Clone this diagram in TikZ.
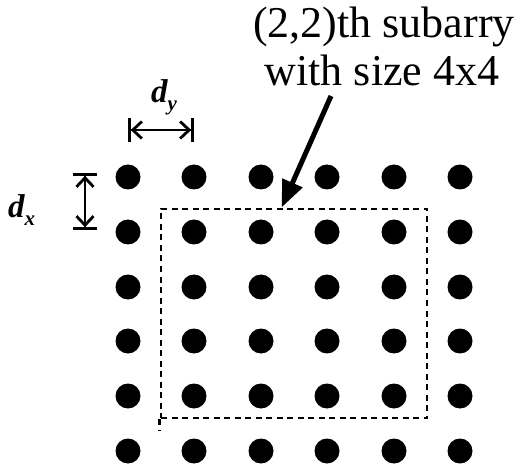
\documentclass[tikz,border=0pt]{standalone}
\usepackage{fontspec}
\setmainfont{Liberation Serif}
\usetikzlibrary{arrows.meta,calc}
\newcommand\mysubfnt{\fontsize{21}{21}\selectfont\bfseries\itshape}
\begin{document}
\begin{tikzpicture}[x=1pt,y=-1pt,
  dot/.style={circle,fill=black,inner sep=0pt,minimum size=25pt},
  lbl/.style={anchor=base,inner sep=0pt,font=\fontsize{44}{48}\selectfont},
  dimlbl/.style={anchor=base west,inner sep=0pt,font=\fontsize{33}{33}\selectfont\bfseries\itshape},
  dimline/.style={line width=2.8pt,
    {Bar[width=24pt,line width=2.8pt]Straight Barb[length=9pt,width=17pt,line width=2.8pt]}-{Straight Barb[length=9pt,width=17pt,line width=2.8pt]Bar[width=24pt,line width=2.8pt]}},
  dashpat/.style={line width=2.9pt,dash pattern=on 6pt off 4.5pt},
  subbox/.style={draw,dashpat,inner sep=0pt,minimum width=266pt,minimum height=209pt},
  pointer/.style={line width=5pt,-{Triangle[length=27pt,width=21pt]}}]
\useasboundingbox (0,0) rectangle (525,465);
\foreach \y [count=\j] in {177,232,287,341,396,451}{
  \foreach \x [count=\i] in {128,194,261,327,394,460}{
    \node[dot] (d\j\i) at (\x,\y) {};
  }
}
\node[subbox] (sub) at (294,313.5) {};
\coordinate (subext) at ($(sub.south west)+(0,11)$);
\draw[dashpat] (sub.south west) -- (subext);
\node[lbl] (t1) at (384,38) {(2,2)th subarry};
\node[lbl] (t2) at (382,86) {with size 4x4};
\coordinate (ps) at (331,96);
\coordinate (pe) at ($(sub.north west)+(122,0)$);
\draw[pointer] (ps) -- (pe);
\coordinate (dya) at (128,130);
\coordinate (dyb) at (194,130);
\draw[dimline] (dya) -- (dyb);
\node[dimlbl] (dy) at (151,103) {d\raisebox{-8pt}{\mysubfnt y}};
\coordinate (dxa) at (85,173);
\coordinate (dxb) at (85,230);
\draw[dimline] (dxa) -- (dxb);
\node[dimlbl] (dx) at (8,218) {d\raisebox{-8pt}{\mysubfnt x}};
\end{tikzpicture}
\end{document}
